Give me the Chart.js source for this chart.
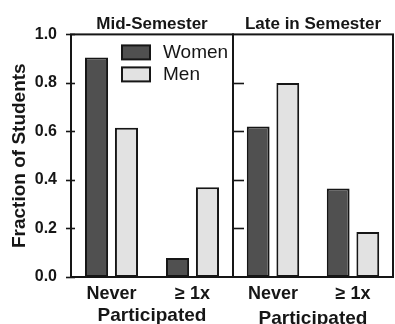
<!DOCTYPE html>
<html>
<head>
<meta charset="utf-8">
<script src="https://cdn.jsdelivr.net/npm/chart.js@4.4.1/dist/chart.umd.min.js"></script>
<style>
  html, body { margin: 0; padding: 0; background: #fff; }
  #wrap { position: relative; width: 395px; height: 324px; overflow: hidden; }
  canvas { position: absolute; top: 0; }
  #mid { left: 0; }
  #late { left: 232px; }
</style>
</head>
<body>
<div id="wrap">
  <canvas id="mid" width="234" height="324"></canvas>
  <canvas id="late" width="163" height="324"></canvas>
</div>
<script>
// Participation categories and fractions of students per group
const categories = ['Never', '≥ 1x'];
const seriesNames = ['Women', 'Men'];
const midWomen = [0.905, 0.078];
const midMen = [0.615, 0.37];
const lateWomen = [0.62, 0.365];
const lateMen = [0.80, 0.185];
const yTicks = [0.0, 0.2, 0.4, 0.6, 0.8, 1.0];

const FONT = "'Liberation Sans', Arial, Helvetica, sans-serif";
const INK = '#161616';
const WOMEN_FILL = '#505050';
const MEN_FILL = '#e2e2e2';

function datasets(women, men) {
  return [
    { label: seriesNames[0], data: women, backgroundColor: WOMEN_FILL },
    { label: seriesNames[1], data: men, backgroundColor: MEN_FILL }
  ].map(d => Object.assign(d, {
    borderColor: INK, borderWidth: 2, borderSkipped: false,
    categoryPercentage: 0.74, barPercentage: 0.77
  }));
}

// Box round the plot area plus the y tick marks (crossing or inward)
function framePlugin(tickIn, tickOut, withEnds) {
  return {
    id: 'frame',
    afterDatasetsDraw(chart) {
      const { ctx, chartArea: a, scales } = chart;
      ctx.save();
      ctx.strokeStyle = INK;
      ctx.lineWidth = 2;
      ctx.strokeRect(a.left, a.top, a.right - a.left, a.bottom - a.top);
      ctx.lineWidth = 1.6;
      yTicks.forEach(v => {
        if (!withEnds && (v === 0 || v === 1)) return;
        const y = Math.round(scales.y.getPixelForValue(v)) + 0.5;
        ctx.beginPath();
        ctx.moveTo(a.left - tickOut, y);
        ctx.lineTo(a.left + tickIn, y);
        ctx.stroke();
      });
      ctx.restore();
    }
  };
}

// Legend drawn inside the plot area
const legendPlugin = {
  id: 'innerLegend',
  afterDraw(chart) {
    const { ctx, chartArea: a } = chart;
    ctx.save();
    chart.data.datasets.forEach((ds, i) => {
      const bx = a.left + 51, by = a.top + 11 + i * 22;
      ctx.fillStyle = ds.backgroundColor;
      ctx.fillRect(bx, by, 28, 14);
      ctx.strokeStyle = INK;
      ctx.lineWidth = 2;
      ctx.strokeRect(bx, by, 28, 14);
      ctx.fillStyle = INK;
      ctx.font = '19px ' + FONT;
      ctx.textBaseline = 'middle';
      ctx.textAlign = 'left';
      ctx.fillText(ds.label, a.left + 92, by + 7.5);
    });
    ctx.restore();
  }
};

function xScale(titlePadBottom) {
  return {
    type: 'category',
    labels: categories,
    offset: true,
    grid: { display: false },
    border: { display: false },
    ticks: { color: INK, font: { family: FONT, size: 18, weight: 'bold' }, padding: -2, maxRotation: 0, autoSkip: false },
    title: { display: true, text: 'Participated', color: INK,
             font: { family: FONT, size: 19, weight: 'bold' },
             padding: { top: 0, bottom: titlePadBottom } },
    afterFit(s) { s.height = 47; }
  };
}

function titleOpts(text) {
  return {
    display: true, text, color: INK, fullSize: false,
    font: { family: FONT, size: 17, weight: 'bold' },
    padding: { top: 14, bottom: 0 }
  };
}

new Chart(document.getElementById('mid'), {
  type: 'bar',
  data: { labels: categories, datasets: datasets(midWomen, midMen) },
  options: {
    responsive: false, animation: false,
    layout: { padding: { left: 0, right: 1, top: 0, bottom: 0 } },
    plugins: { legend: { display: false }, tooltip: { enabled: false }, title: titleOpts('Mid-Semester') },
    scales: {
      x: xScale(-3),
      y: {
        min: 0, max: 1,
        afterBuildTicks(s) { s.ticks = yTicks.map(v => ({ value: v })); },
        grid: { display: false },
        border: { display: false },
        ticks: { color: INK, padding: 6, font: { family: FONT, size: 16, weight: 'bold' },
                 callback: v => Number(v).toFixed(1) },
        title: { display: true, text: 'Fraction of Students', color: INK,
                 font: { family: FONT, size: 19, weight: 'bold' },
                 padding: { top: 8.5, bottom: 0 } },
        afterFit(s) { s.width = 71; }
      }
    }
  },
  plugins: [framePlugin(4, 5, true), legendPlugin]
});

new Chart(document.getElementById('late'), {
  type: 'bar',
  data: { labels: categories, datasets: datasets(lateWomen, lateMen) },
  options: {
    responsive: false, animation: false,
    layout: { padding: { left: 1, right: 2, top: 0, bottom: 0 } },
    plugins: { legend: { display: false }, tooltip: { enabled: false }, title: titleOpts('Late in Semester') },
    scales: {
      x: xScale(-6),
      y: {
        display: false, min: 0, max: 1,
        afterBuildTicks(s) { s.ticks = yTicks.map(v => ({ value: v })); }
      }
    }
  },
  plugins: [framePlugin(11, 0, false)]
});
</script>
</body>
</html>
